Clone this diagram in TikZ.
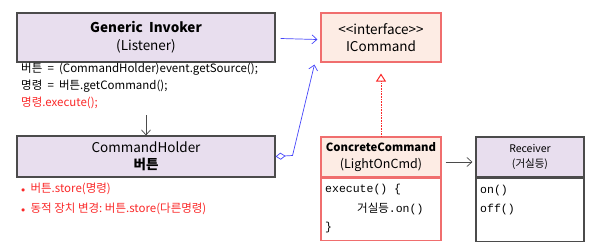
\documentclass[tikz,border=0pt]{standalone}
\usepackage{fontspec}
\setmainfont{Noto Sans CJK KR}
\setmonofont{Liberation Mono}
\newfontfamily\kr{Noto Sans CJK KR}
\usetikzlibrary{arrows.meta,positioning,calc}
\definecolor{softlilac}{RGB}{232,222,238}
\definecolor{softpeach}{RGB}{253,236,228}
\definecolor{ifred}{RGB}{240,110,110}
\definecolor{linkblue}{RGB}{70,70,250}
\definecolor{notered}{RGB}{250,40,40}
\definecolor{darkgray}{RGB}{75,75,75}
\tikzset{
  classbox/.style={draw=darkgray,line width=1.1pt,fill=softlilac,align=center,inner sep=0pt},
  cmdbox/.style={draw=ifred,line width=1.1pt,fill=softpeach,align=center,inner sep=0pt},
  codeline/.style={anchor=west,inner sep=0pt,font=\fontsize{11.5}{13}\selectfont},
  monoline/.style={anchor=west,inner sep=0pt,font=\ttfamily\fontsize{11.5}{13}\selectfont},
  link/.style={-{Straight Barb[length=5pt,width=9pt]},linkblue,line width=0.7pt},
  arrow/.style={-{Straight Barb[length=5pt,width=9pt]},darkgray,line width=0.7pt}
}
\begin{document}
\begin{tikzpicture}[x=1pt,y=-1pt]
\useasboundingbox (0,0) rectangle (602,247);
% invoker and its code
\node[classbox,minimum width=258,minimum height=49,font=\fontsize{13.5}{18}\selectfont] (invoker) at (146,37.5)
  {\textbf{Generic~~Invoker}\\(Listener)};
\node[codeline] (code1) at (21,69) {버튼~~=~~(CommandHolder)event.getSource();};
\node[codeline] (code2) at (21,86) {명령~~=~~버튼.getCommand();};
\node[codeline,text=notered] (code3) at (21,103) {명령.execute();};
% holder
\node[classbox,minimum width=258,minimum height=41,font=\fontsize{13.5}{17}\selectfont] (holder) at (146,156.5)
  {CommandHolder\\\textbf{버튼}};
\node[codeline,text=notered] (note1) at (21,189) {\scalebox{0.7}{$\bullet$}~~버튼.store(명령)};
\node[codeline,text=notered] (note2) at (21,209) {\scalebox{0.7}{$\bullet$}~~동적~장치~변경:~버튼.store(다른명령)};
% interface
\node[cmdbox,minimum width=120,minimum height=49,font=\fontsize{13.5}{17}\selectfont] (icmd) at (381,37.5)
  {{<}{<}interface{>}{>}\\ICommand};
% concrete command
\node[cmdbox,minimum width=120,minimum height=40,font=\fontsize{12.5}{17}\selectfont] (concrete) at (381,157)
  {{\fontsize{11.3}{17}\selectfont\bfseries ConcreteCommand}\\(LightOnCmd)};
\node[draw=ifred,line width=1.1pt,fill=white,minimum width=120,minimum height=62,below=0pt of concrete,inner sep=0pt] (concretebody) {};
\node[monoline] (exec1) at (325,190) {execute() \{};
\node[monoline] (exec2) at (357,209) {{\kr 거실등}.on()};
\node[monoline] (exec3) at (325,228) {\}};
% receiver
\node[classbox,minimum width=108,minimum height=40,font=\fontsize{10.5}{15}\selectfont] (receiver) at (530,157)
  {Receiver\\(거실등)};
\node[draw=darkgray,line width=1.1pt,fill=white,minimum width=108,minimum height=63,below=0pt of receiver,inner sep=0pt] (receiverbody) {};
\node[monoline] (on) at (480,191) {on()};
\node[monoline] (off) at (480,210) {off()};
% connectors
\draw[link] (invoker.east) ++(5,1) coordinate (callstart) -- ([xshift=-3pt,yshift=-2pt]icmd.west);
\draw[link,{Diamond[open,length=10pt,width=7pt]}-{Straight Barb[length=5pt,width=9pt]}] (holder.east) -- ++(17,-1) -- ([xshift=-6pt,yshift=-2pt]icmd.south west);
\draw[arrow] (holder.north |- code3.south) ++(0,6) -- (holder.north);
\draw[notered,densely dotted,line width=0.6pt,-{Triangle[open,length=8pt,width=10pt,line width=1pt]}] (concrete.north) -- ([yshift=-11pt]icmd.south);
\draw[arrow] ($(concrete.east)+(4,5)$) -- ($(receiver.west)+(-3,5)$);
\end{tikzpicture}
\end{document}
